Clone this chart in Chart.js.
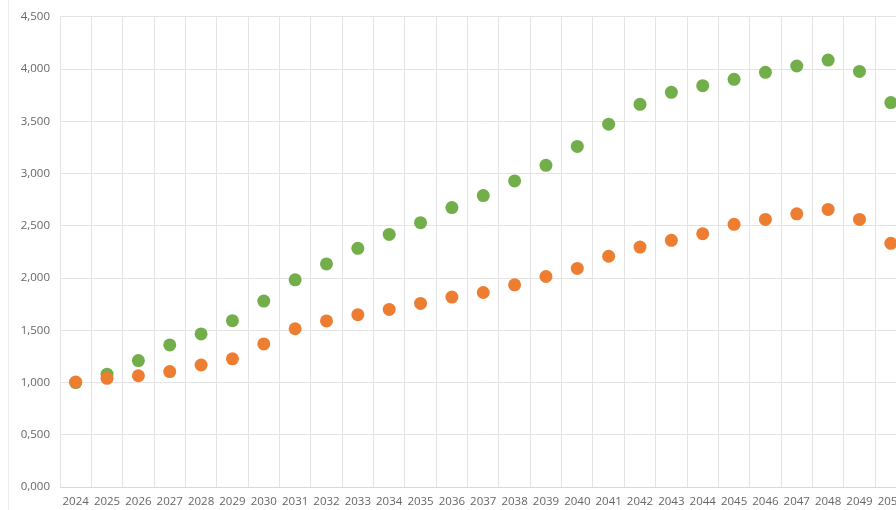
<!DOCTYPE html>
<html>
<head>
<meta charset="utf-8">
<script src="https://cdn.jsdelivr.net/npm/chart.js@4"></script>
<style>
    html, body { margin: 0; padding: 0; background: #fff; overflow: hidden; }
    #wrap { position: relative; width: 913px; height: 510px; }
    #edge { position: absolute; left: 8px; top: 0; width: 1px; height: 510px; background: #eeeeee; }
</style>
</head>
<body>
<div id="wrap">
    <div id="edge"></div>
    <canvas id="chart" width="913" height="510"></canvas>
</div>
<script>
const years = ['2024', '2025', '2026', '2027', '2028', '2029', '2030', '2031', '2032',
    '2033', '2034', '2035', '2036', '2037', '2038', '2039', '2040', '2041', '2042',
    '2043', '2044', '2045', '2046', '2047', '2048', '2049', '2050'];

const greenValues = [1.000, 1.080, 1.210, 1.360, 1.465, 1.592, 1.780, 1.983, 2.135,
    2.285, 2.418, 2.530, 2.675, 2.790, 2.930, 3.079, 3.260, 3.473, 3.663,
    3.778, 3.842, 3.902, 3.969, 4.030, 4.087, 3.978, 3.680];

const orangeValues = [1.005, 1.040, 1.065, 1.105, 1.168, 1.227, 1.370, 1.515, 1.590,
    1.650, 1.700, 1.757, 1.818, 1.862, 1.935, 2.015, 2.092, 2.209, 2.297,
    2.361, 2.424, 2.514, 2.561, 2.615, 2.657, 2.561, 2.333];

const yMin = 0;
const yMax = 4.5;
const yStep = 0.5;

const fontSpec = { family: '"Open Sans", sans-serif', size: 11.5 };
const labelColor = '#666666';
const gridColor = '#e3e3e3';

function fmt(v) {
    return v.toFixed(3).replace('.', ',');
}

const ctx = document.getElementById('chart').getContext('2d');

new Chart(ctx, {
    type: 'line',
    data: {
        labels: years,
        datasets: [{
            label: 'green',
            data: greenValues,
            order: 1,
            showLine: false,
            pointRadius: 6.5,
            pointBackgroundColor: '#72AF4B',
            pointBorderColor: '#72AF4B',
            pointBorderWidth: 0
        }, {
            label: 'orange',
            data: orangeValues,
            order: 0,
            showLine: false,
            pointRadius: 6.5,
            pointBackgroundColor: '#ED7D31',
            pointBorderColor: '#ED7D31',
            pointBorderWidth: 0
        }]
    },
    options: {
        responsive: false,
        animation: false,
        layout: { padding: { top: 8, right: 5, bottom: 0, left: 0 } },
        plugins: {
            legend: { display: false },
            tooltip: { enabled: false }
        },
        scales: {
            x: {
                offset: true,
                grid: { color: gridColor, offset: true, drawTicks: false },
                border: { color: '#d9d9d9' },
                ticks: {
                    color: labelColor,
                    font: fontSpec,
                    padding: 8,
                    maxRotation: 0,
                    autoSkip: false
                },
                afterFit: function (scale) { scale.height = 23; }
            },
            y: {
                min: yMin,
                max: yMax,
                grid: { color: gridColor, drawTicks: false },
                border: { display: false },
                ticks: {
                    stepSize: yStep,
                    color: labelColor,
                    font: fontSpec,
                    padding: 10,
                    callback: function (value) { return fmt(value); }
                },
                afterFit: function (scale) { scale.width = 60; }
            }
        }
    }
});
</script>
</body>
</html>
